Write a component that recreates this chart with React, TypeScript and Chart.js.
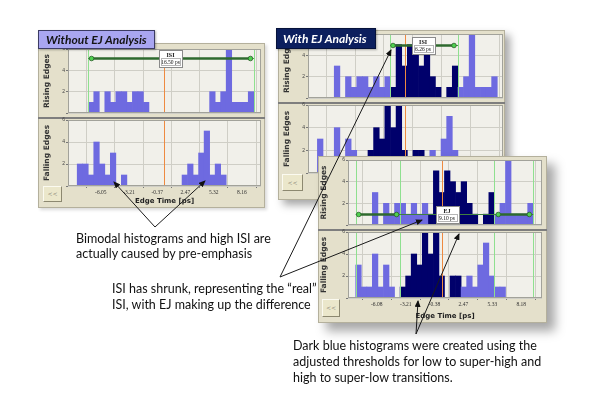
import React, { useEffect, useRef } from 'react';
import { Chart, registerables } from 'chart.js';
Chart.register(...registerables);

// ---------- data (counts per histogram bin) ----------
const withoutRising = [0, 0, 1, 2, 0, 2, 1, 2, 2, 1, 2, 2, 1, 0, 0, 0, 0, 0, 0, 0, 0, 0, 0, 0, 2, 1, 2, 6, 1, 1, 1, 2];
const withoutFalling = [2, 2, 1, 4, 2, 1, 3, 0, 1, 0, 0, 0, 0, 0, 0, 0, 0, 0, 0, 1, 2, 1, 3, 5, 1, 2, 1, 0, 0, 0, 0, 0];

const withRisingLight = [0, 0, 0, 3, 0, 2, 1, 2, 2, 1, 2, 1, 2, 0, 0, 0, 0, 0, 0, 0, 0, 0, 0, 0, 0, 1, 2, 6, 1, 1, 1, 2];
const withRisingDark = [0, 0, 0, 0, 0, 0, 0, 0, 0, 0, 0, 0, 0, 1, 5, 3, 5, 4, 3, 4, 2, 1, 0, 1, 3, 0, 0, 0, 0, 0, 0, 0];
const withFallingLight = [3, 1, 1, 4, 1, 3, 2, 1, 0, 0, 0, 0, 0, 0, 0, 0, 0, 0, 0, 1, 2, 1, 3, 5, 2, 1, 1, 0, 0, 0, 0, 0];
const withFallingDark = [0, 0, 0, 0, 0, 0, 0, 0, 1, 2, 4, 3, 6, 4, 6, 2, 0, 2, 2, 0, 0, 0, 0, 0, 0, 0, 0, 0, 0, 0, 0, 0];

const zoomRisingLight = [0, 0, 0, 3, 0, 2, 1, 2, 2, 1, 2, 1, 2, 0, 0, 0, 0, 0, 0, 0, 0, 0, 0, 0, 0, 1, 2, 6, 1, 1, 1, 2];
const zoomRisingDark = [0, 0, 0, 0, 0, 0, 0, 0, 0, 0, 0, 0, 0, 1, 5, 3, 5, 4, 3, 4, 2, 1, 0, 1, 3, 0, 0, 0, 0, 0, 0, 0];
const zoomFallingLight = [3, 1, 1, 4, 1, 3, 1, 0, 0, 0, 0, 0, 0, 0, 0, 0, 0, 0, 0, 1, 2, 1, 3, 5, 2, 1, 1, 0, 0, 0, 0, 0];
const zoomFallingDark = [0, 0, 0, 0, 0, 0, 0, 0, 1, 2, 4, 3, 6, 4, 6, 2, 0, 2, 2, 0, 0, 0, 0, 0, 0, 0, 0, 0, 0, 0, 0, 0];

const withoutTickValues = [-8.89, -6.05, -3.21, -0.37, 2.47, 5.32, 8.16];
const withoutTickLabels = ['', '-6.05', '-3.21', '-0.37', '2.47', '5.32', '8.16'];
const withTickValues = [-6.08, -3.21, -0.38, 2.47, 5.33, 8.18];
const withTickLabels = ['-6.08', '-3.21', '-0.38', '2.47', '5.33', '8.18'];

const yTickValues = [0, 2, 4, 6];

// ---------- styles ----------
const LIGHT = '#6e6ae0';
const DARK = '#00006b';
const PLOT_BG = '#f1f0ea';
const GRID = '#cfcec6';
const PANEL_BG = '#e4e0cb';

type Span = { y: number; thick: [number, number][]; thin: [number, number]; labelAt: number; line1: string; line2: string };

type HistProps = {
  plotLeft: number; plotTop: number; plotW: number; plotH: number;
  yW: number; padTop: number; xH: number;
  light: number[]; dark?: number[];
  binMin: number; binMax: number;
  psMin: number; psMax: number; tickVals: number[]; tickLabels: string[];
  showX: boolean; yTitle: string; titlePad: number;
  greens: number[]; orange: number; span?: Span;
};

function decorPlugin(p: HistProps) {
  return {
    id: 'decor',
    beforeDraw(chart: any) {
      const { ctx, chartArea: a } = chart;
      ctx.save();
      ctx.fillStyle = PLOT_BG;
      ctx.fillRect(a.left, a.top, a.right - a.left, a.bottom - a.top);
      ctx.restore();
    },
    afterDatasetsDraw(chart: any) {
      const { ctx, chartArea: a, scales } = chart;
      const xs = scales.x, ys = scales.y;
      ctx.save();
      ctx.beginPath();
      ctx.rect(a.left, a.top, a.right - a.left, a.bottom - a.top);
      ctx.clip();
      ctx.lineWidth = 1;
      ctx.strokeStyle = '#8fe08f';
      p.greens.forEach((g) => {
        const px = Math.round(xs.getPixelForValue(g)) + 0.5;
        ctx.beginPath(); ctx.moveTo(px, a.top); ctx.lineTo(px, a.bottom); ctx.stroke();
      });
      ctx.strokeStyle = '#ee8a40';
      const ox = Math.round(xs.getPixelForValue(p.orange)) + 0.5;
      ctx.beginPath(); ctx.moveTo(ox, a.top); ctx.lineTo(ox, a.bottom); ctx.stroke();
      ctx.restore();

      ctx.save();
      ctx.strokeStyle = '#a2a29a';
      ctx.lineWidth = 1;
      ctx.strokeRect(a.left + 0.5, a.top + 0.5, a.right - a.left - 1, a.bottom - a.top - 1);
      ctx.restore();

      const s = p.span;
      if (s) {
        ctx.save();
        const py = Math.round(ys.getPixelForValue(s.y)) + 0.5;
        ctx.strokeStyle = '#3f7f3f';
        ctx.lineWidth = 1;
        ctx.beginPath();
        ctx.moveTo(xs.getPixelForValue(s.thin[0]), py);
        ctx.lineTo(xs.getPixelForValue(s.thin[1]), py);
        ctx.stroke();
        s.thick.forEach(([f, t]) => {
          const x1 = xs.getPixelForValue(f), x2 = xs.getPixelForValue(t);
          ctx.strokeStyle = '#2e6a2e';
          ctx.lineWidth = 2.5;
          ctx.beginPath(); ctx.moveTo(x1, py); ctx.lineTo(x2, py); ctx.stroke();
          [x1, x2].forEach((dx) => {
            ctx.beginPath();
            ctx.arc(dx, py, 2.3, 0, Math.PI * 2);
            ctx.fillStyle = '#4fd04f';
            ctx.fill();
            ctx.lineWidth = 0.8;
            ctx.strokeStyle = '#2a5e2a';
            ctx.stroke();
          });
        });
        const cx = xs.getPixelForValue(s.labelAt);
        const bw = 23, bh = 17;
        const bx = Math.round(cx - bw / 2) + 0.5, by = Math.round(py - bh / 2) + 0.5;
        ctx.fillStyle = '#ffffff';
        ctx.fillRect(bx, by, bw, bh);
        ctx.strokeStyle = '#8a8a8a';
        ctx.lineWidth = 1;
        ctx.strokeRect(bx, by, bw, bh);
        ctx.strokeStyle = '#b5b5b5';
        ctx.strokeRect(bx + 2, by + 8, bw - 4, 7);
        ctx.fillStyle = '#111';
        ctx.textAlign = 'center';
        ctx.textBaseline = 'middle';
        ctx.font = 'bold 6px "Liberation Serif"';
        ctx.fillText(s.line1, cx, by + 4.5);
        ctx.font = '5.5px "Liberation Serif"';
        ctx.fillText(s.line2, cx, by + 11.8);
        ctx.restore();
      }
    },
  };
}

function Histogram(p: HistProps) {
  const ref = useRef<HTMLCanvasElement>(null);
  const w = p.yW + p.plotW;
  const h = p.padTop + p.plotH + p.xH;
  useEffect(() => {
    const bar = { barPercentage: 1, categoryPercentage: 1, grouped: false, borderWidth: 0 };
    const datasets: any[] = [
      { data: p.light.map((v, i) => ({ x: i, y: v })), backgroundColor: LIGHT, ...bar },
    ];
    if (p.dark) datasets.push({ data: p.dark.map((v, i) => ({ x: i, y: v })), backgroundColor: DARK, ...bar });
    const chart = new Chart(ref.current as HTMLCanvasElement, {
      type: 'bar',
      data: { datasets },
      options: {
        responsive: false,
        maintainAspectRatio: false,
        animation: false,
        events: [],
        layout: { padding: { top: p.padTop, left: 0, right: 0, bottom: 0 }, autoPadding: false },
        plugins: { legend: { display: false }, tooltip: { enabled: false } },
        scales: {
          x: {
            type: 'linear', display: false, min: p.binMin, max: p.binMax, offset: false,
            afterBuildTicks: (s: any) => { s.ticks = p.light.map((_, i) => ({ value: i })); },
          },
          xt: {
            type: 'linear', position: 'bottom', min: p.psMin, max: p.psMax, offset: false,
            afterBuildTicks: (s: any) => { s.ticks = p.tickVals.map((v) => ({ value: v })); },
            afterFit: (s: any) => { s.height = p.xH; },
            ticks: {
              display: p.showX, autoSkip: false, maxRotation: 0, minRotation: 0, padding: 1,
              font: { size: 5.5, family: 'Liberation Serif' }, color: '#333',
              callback: (_v: any, i: number) => p.tickLabels[i],
            },
            grid: { color: GRID, drawTicks: p.showX, tickLength: 2, tickColor: '#777' },
            border: { display: false },
            title: {
              display: p.showX, text: 'Edge Time [ps]', color: '#222', padding: 0,
              font: { size: 7, weight: 'bold', family: 'DejaVu Sans' },
            },
          },
          y: {
            min: 0, max: 6,
            afterBuildTicks: (s: any) => { s.ticks = yTickValues.map((v) => ({ value: v })); },
            afterFit: (s: any) => { s.width = p.yW; },
            ticks: {
              padding: 1, font: { size: 5, family: 'Liberation Sans' }, color: '#444',
              callback: (v: any) => (v === 0 ? '' : String(v)),
            },
            grid: { color: GRID, drawTicks: true, tickLength: 2, tickColor: '#777' },
            border: { display: false },
            title: {
              display: true, text: p.yTitle, color: '#333',
              padding: { top: p.titlePad, bottom: 0 },
              font: { size: 7.5, weight: 'bold', family: 'DejaVu Sans' },
            },
          },
        },
      } as any,
      plugins: [decorPlugin(p) as any],
    });
    return () => chart.destroy();
  }, []);
  return (
    <canvas
      ref={ref}
      width={w}
      height={h}
      style={{ position: 'absolute', left: p.plotLeft - p.yW, top: p.plotTop - p.padTop, width: w, height: h }}
    />
  );
}

function Button({ left, top, w, h }: { left: number; top: number; w: number; h: number }) {
  return (
    <div
      style={{
        position: 'absolute', left, top, width: w, height: h, boxSizing: 'border-box',
        background: '#ebe7cb', borderTop: '1px solid #fbfaf0', borderLeft: '1px solid #fbfaf0',
        borderRight: '1px solid #8c8870', borderBottom: '1px solid #8c8870',
        color: '#8c8a78', fontFamily: 'DejaVu Sans', fontSize: 6, lineHeight: `${h - 2}px`, textAlign: 'center',
      }}
    >
      {'<<'}
    </div>
  );
}

const ARROWS: [number, number, number, number][] = [
  [155, 227, 114, 182],
  [155, 227, 205, 181],
  [280, 277, 391, 50],
  [280, 277, 422, 220],
  [416, 334, 418, 301],
  [416, 334, 459, 234],
];

const textStyle: React.CSSProperties = {
  position: 'absolute', fontFamily: 'Lato', fontSize: 12.5, color: '#111', whiteSpace: 'pre', lineHeight: '16px',
};

export default function App() {
  return (
    <div style={{ position: 'fixed', left: 0, top: 0, width: 595, height: 396, background: '#fff', overflow: 'hidden' }}>
      {/* ---------- Without EJ ---------- */}
      <div style={{ position: 'absolute', left: 38, top: 43, width: 227, height: 165, background: PANEL_BG, border: '1px solid #b4b09c', boxSizing: 'border-box', boxShadow: '2px 2px 3px rgba(0,0,0,0.15)' }} />
      <Histogram plotLeft={68} plotTop={49} plotW={193} plotH={68} yW={30} padTop={4} xH={0}
        light={withoutRising} binMin={-2.17} binMax={32.81} psMin={-9.35} psMax={10.08}
        tickVals={withoutTickValues} tickLabels={withoutTickLabels} showX={false} yTitle="Rising Edges" titlePad={5}
        greens={[1.5, 31.5]} orange={15.2}
        span={{ y: 5.15, thick: [[2.1, 30.9]], thin: [1.5, 31.5], labelAt: 16.4, line1: 'ISI', line2: '16.50 ps' }} />
      <div style={{ position: 'absolute', left: 38, top: 117, width: 227, height: 2, background: '#7e7e7e' }} />
      <Histogram plotLeft={68} plotTop={119} plotW={193} plotH={67} yW={30} padTop={3} xH={19}
        light={withoutFalling} binMin={-2.17} binMax={32.81} psMin={-9.35} psMax={10.08}
        tickVals={withoutTickValues} tickLabels={withoutTickLabels} showX={true} yTitle="Falling Edges" titlePad={5}
        greens={[]} orange={15.2} />
      <Button left={43} top={186} w={19} h={16} />
      <div style={{ position: 'absolute', left: 38, top: 30, width: 117, height: 19, boxSizing: 'border-box', background: '#a9a6f1', border: '1px solid #3c3c64', fontFamily: 'Lato', fontWeight: 'bold', fontStyle: 'italic', fontSize: 12, lineHeight: '17px', paddingLeft: 7, color: '#141414', boxShadow: '1px 1px 2px rgba(0,0,0,0.3)' }}>Without EJ Analysis</div>

      {/* ---------- With EJ ---------- */}
      <div style={{ position: 'absolute', left: 278, top: 30, width: 227, height: 170, background: PANEL_BG, border: '1px solid #b4b09c', boxSizing: 'border-box', boxShadow: '5px 5px 8px rgba(0,0,0,0.35)' }} />
      <Histogram plotLeft={308} plotTop={32} plotW={195} plotH={70} yW={30} padTop={2} xH={0}
        light={withRisingLight} dark={withRisingDark} binMin={-2.17} binMax={32.52} psMin={-9.32} psMax={9.99}
        tickVals={withTickValues} tickLabels={withTickLabels} showX={false} yTitle="Rising Edges" titlePad={5}
        greens={[12.5, 24.5]} orange={15.03}
        span={{ y: 5.0, thick: [[12.95, 23.8]], thin: [12.5, 24.5], labelAt: 18.3, line1: 'ISI', line2: '6.26 ps' }} />
      <div style={{ position: 'absolute', left: 278, top: 102, width: 227, height: 2, background: '#7e7e7e' }} />
      <Histogram plotLeft={308} plotTop={104} plotW={195} plotH={69} yW={30} padTop={3} xH={20}
        light={withFallingLight} dark={withFallingDark} binMin={-2.17} binMax={32.52} psMin={-9.32} psMax={9.99}
        tickVals={withTickValues} tickLabels={withTickLabels} showX={true} yTitle="Falling Edges" titlePad={5}
        greens={[]} orange={15.03} />
      <Button left={282} top={174} w={21} h={17} />
      <div style={{ position: 'absolute', left: 276, top: 28, width: 100, height: 21, boxSizing: 'border-box', background: '#0c1f5e', border: '1px solid #06123a', fontFamily: 'Lato', fontWeight: 'bold', fontStyle: 'italic', fontSize: 12, lineHeight: '19px', paddingLeft: 6, color: '#ffffff', boxShadow: '1px 1px 2px rgba(0,0,0,0.3)' }}>With EJ Analysis</div>

      {/* ---------- Zoomed EJ view ---------- */}
      <div style={{ position: 'absolute', left: 318, top: 156, width: 229, height: 167, background: PANEL_BG, border: '1px solid #b4b09c', boxSizing: 'border-box', boxShadow: '8px 8px 10px rgba(0,0,0,0.35)' }} />
      <Histogram plotLeft={348} plotTop={158} plotW={194} plotH={71} yW={30} padTop={2} xH={0}
        light={zoomRisingLight} dark={zoomRisingDark} binMin={-1.89} binMax={33.08} psMin={-8.92} psMax={10.23}
        tickVals={withTickValues} tickLabels={withTickLabels} showX={false} yTitle="Rising Edges" titlePad={2}
        greens={[-0.5, 7.5, 24.5, 31.5]} orange={15.05}
        span={{ y: 1.06, thick: [[0.04, 6.86], [25.2, 30.8]], thin: [-0.5, 31.5], labelAt: 15.96, line1: 'EJ', line2: '9.10 ps' }} />
      <div style={{ position: 'absolute', left: 318, top: 229, width: 229, height: 2, background: '#7e7e7e' }} />
      <Histogram plotLeft={348} plotTop={231} plotW={194} plotH={67} yW={30} padTop={3} xH={22}
        light={zoomFallingLight} dark={zoomFallingDark} binMin={-1.89} binMax={33.08} psMin={-8.92} psMax={10.23}
        tickVals={withTickValues} tickLabels={withTickLabels} showX={true} yTitle="Falling Edges" titlePad={2}
        greens={[-0.5, 7.5, 24.5, 31.5]} orange={15.05} />
      <Button left={322} top={299} w={18} h={18} />

      {/* ---------- annotations ---------- */}
      <div style={{ ...textStyle, left: 76, top: 231, lineHeight: '15px' }}>{'Bimodal histograms and high ISI are\nactually caused by pre-emphasis'}</div>
      <div style={{ ...textStyle, left: 112, top: 281 }}>{'ISI has shrunk, representing the \u201Creal\u201D\nISI, with EJ making up the difference'}</div>
      <div style={{ ...textStyle, left: 293, top: 338 }}>{'Dark blue histograms were created using the\nadjusted thresholds for low to super-high and\nhigh to super-low transitions.'}</div>

      <svg width={595} height={396} style={{ position: 'absolute', left: 0, top: 0 }}>
        <defs>
          <marker id="ah" markerWidth="7" markerHeight="6" refX="6" refY="3" orient="auto" markerUnits="userSpaceOnUse">
            <path d="M0,0 L7,3 L0,6 z" fill="#111" />
          </marker>
        </defs>
        {ARROWS.map(([x1, y1, x2, y2], i) => (
          <line key={i} x1={x1} y1={y1} x2={x2} y2={y2} stroke="#1a1a1a" strokeWidth={1} markerEnd="url(#ah)" />
        ))}
      </svg>
    </div>
  );
}
